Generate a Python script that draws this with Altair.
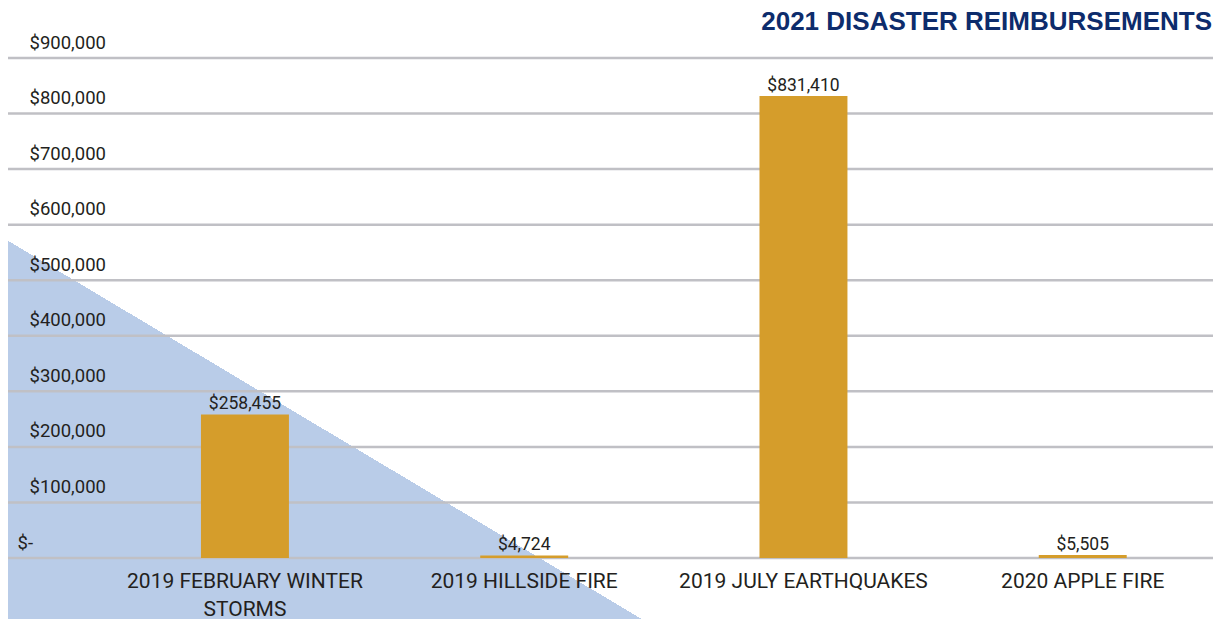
import altair as alt
import pandas as pd

categories = ["2019 FEBRUARY WINTER STORMS", "2019 HILLSIDE FIRE",
              "2019 JULY EARTHQUAKES", "2020 APPLE FIRE"]
amounts = [258455, 4724, 831410, 5505]
value_labels = ["$258,455", "$4,724", "$831,410", "$5,505"]
y_ticks = [0, 100000, 200000, 300000, 400000, 500000, 600000, 700000, 800000, 900000]
title_text = ["2021 DISASTER REIMBURSEMENTS"]

FONT = "Roboto, Liberation Sans, sans-serif"
TEXT = "#231f20"
W, H = 1205, 500

bars_df = pd.DataFrame({"category": categories, "amount": amounts, "label": value_labels})
grid_df = pd.DataFrame({"tick": y_ticks})
title_df = pd.DataFrame({"title": title_text})

x_scale = alt.Scale(domain=categories, paddingInner=0.685, paddingOuter=0.5, align=0.691)
y_scale = alt.Scale(domain=[0, 900000], nice=False, zero=True)

# decorative diagonal backdrop: a rect with a hard-edged diagonal gradient
shade = alt.Chart(title_df).mark_rect(
    clip=False,
    fill=alt.LinearGradient(
        gradient="linear", x1=0, y1=1, x2=1, y2=0,
        stops=[alt.GradientStop(color="#b9cce8", offset=0),
               alt.GradientStop(color="#b9cce8", offset=0.5),
               alt.GradientStop(color="rgba(255,255,255,0)", offset=0.5),
               alt.GradientStop(color="rgba(255,255,255,0)", offset=1)]),
).encode(
    x=alt.value(-8), x2=alt.value(647), y=alt.value(178), y2=alt.value(569),
)

grid = alt.Chart(grid_df).mark_rule(color="#c0c0c5", strokeWidth=2.5).encode(
    y=alt.Y("tick:Q", scale=y_scale, axis=alt.Axis(
        orient="left", zindex=1,
        values=y_ticks, title=None, grid=False, ticks=False, tickSize=0, domain=False,
        labelAlign="left", labelBaseline="alphabetic",
        labelPadding={"condition": {"test": "datum.value == 0", "value": -9}, "value": -21},
        labelOffset=-10,
        labelExpr="datum.value == 0 ? '$-' : '$' + format(datum.value, ',')",
        labelFont=FONT, labelFontSize=18.5, labelColor=TEXT)),
    x=alt.value(0), x2=alt.value(W),
)

bars = alt.Chart(bars_df).mark_bar(color="#d59d2b").encode(
    x=alt.X("category:N", scale=x_scale, sort=categories, axis=alt.Axis(
        orient="bottom", zindex=1,
        title=None, domain=False, ticks=False, grid=False, labelAngle=0,
        labelPadding=12, labelFont=FONT, labelFontSize=21, labelColor=TEXT,
        labelLineHeight=28, labelLimit=400,
        labelExpr="datum.label == '2019 FEBRUARY WINTER STORMS' ? ['2019 FEBRUARY WINTER', 'STORMS'] : datum.label")),
    y=alt.Y("amount:Q", scale=y_scale),
)

labels = alt.Chart(bars_df).mark_text(
    dy=-5, baseline="alphabetic", align="center", font=FONT, fontSize=17.5, color=TEXT
).encode(
    x=alt.X("category:N", scale=x_scale, sort=categories),
    y=alt.Y("amount:Q", scale=y_scale),
    text="label:N",
)

title = alt.Chart(title_df).mark_text(
    align="right", baseline="top", font="Liberation Sans, Arial, sans-serif",
    fontSize=26, fontWeight="bold", color="#0d2c6c",
).encode(
    x=alt.value(W - 1), y=alt.value(-49), text="title:N",
)

chart = alt.layer(shade, grid, bars, labels, title).properties(
    width=W, height=H,
    autosize=alt.AutoSizeParams(type="none"),
    padding={"left": 0, "top": 50, "right": 0, "bottom": 61},
    background="white",
).configure_view(stroke=None)

chart.save("out.html", embed_options={"renderer": "svg", "actions": False})
